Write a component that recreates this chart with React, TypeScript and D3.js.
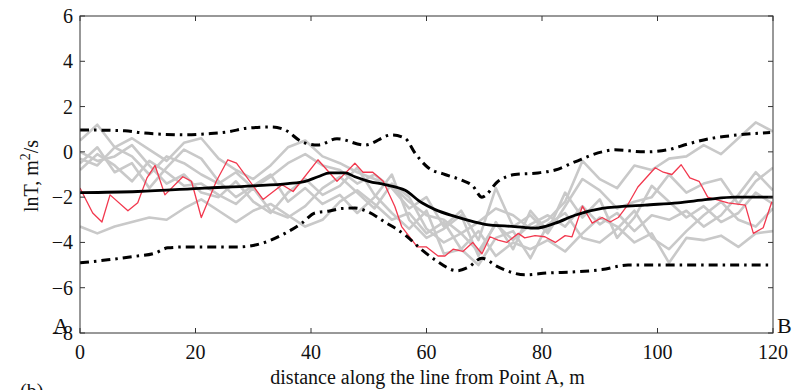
import * as d3 from 'd3'
import { useRef, useEffect } from 'react'

const W = 798, H = 390
const M = { top: 16, right: 25, bottom: 57, left: 80 }

// x positions for the gray realisations (every 3 m)
const grayX = [0, 3, 6, 9, 12, 15, 18, 21, 24, 27, 30, 33, 36, 39, 42, 45, 48, 51, 54, 57, 60, 63, 66, 69, 72, 75, 78, 81, 84, 87, 90, 93, 96, 99, 102, 105, 108, 111, 114, 117, 120]
const grayA = [0.5, 1.2, 0.2, 0.6, 0.1, -0.4, 0.4, 0.6, -0.3, -0.8, -1.2, -0.6, 0.2, 0.5, -0.2, -0.5, -0.9, -1.2, -1.5, -2.2, -2.8, -3.0, -3.6, -3.1, -2.5, -2.8, -3.4, -3.0, -2.2, -0.4, -1.2, -1.6, -0.6, -0.8, -0.3, -0.2, 0.3, -0.1, 0.6, 1.3, 0.9]
const grayB = [-0.3, -0.6, 0.2, -0.2, -1.0, -0.2, -0.5, -1.0, -1.4, -0.9, -1.6, -1.1, -0.5, -0.1, -0.6, -0.8, -1.4, -1.0, -1.6, -2.5, -2.0, -3.3, -2.6, -3.9, -1.6, -3.3, -2.8, -3.6, -2.4, -1.2, -1.7, -2.5, -2.2, -2.0, -1.0, -1.8, -1.4, -1.2, -2.3, -1.3, -0.7]
const grayC = [-0.8, -0.1, -0.6, -1.3, -0.4, -0.9, -1.5, -1.4, -1.9, -2.3, -1.6, -2.6, -2.9, -2.4, -1.6, -1.1, -1.8, -2.5, -1.4, -2.0, -3.4, -4.0, -3.6, -4.4, -3.2, -3.9, -3.2, -2.8, -3.3, -2.4, -3.2, -2.7, -3.5, -2.8, -3.0, -2.6, -3.3, -2.8, -1.9, -0.9, -1.7]
const grayD = [-3.3, -3.6, -3.3, -3.1, -2.9, -3.0, -2.5, -2.1, -2.6, -3.1, -2.6, -2.3, -2.8, -3.3, -3.0, -2.2, -1.7, -2.3, -3.0, -2.7, -3.6, -3.1, -4.3, -3.5, -4.6, -4.0, -4.3, -3.9, -4.4, -3.6, -2.9, -3.3, -4.0, -3.6, -4.9, -3.8, -3.9, -3.7, -4.2, -3.6, -3.5]
const grayE = [0.0, -0.4, -0.2, 0.3, -0.6, -1.4, -1.0, -1.8, -2.0, -1.3, -2.2, -2.7, -1.8, -1.2, -1.9, -1.5, -0.7, -1.9, -2.7, -3.4, -2.6, -4.5, -4.3, -5.0, -3.8, -3.5, -4.7, -3.2, -2.7, -3.8, -4.0, -3.4, -2.6, -3.8, -4.3, -3.5, -2.8, -2.2, -3.0, -3.3, -2.5]
const grayF = [-0.5, 0.2, -0.9, -0.5, -1.6, -0.7, 0.1, -0.3, -1.3, -2.0, -1.5, -1.0, -2.2, -1.6, -2.3, -1.9, -2.7, -2.0, -1.0, -3.0, -3.8, -3.4, -2.8, -4.6, -3.1, -4.3, -2.6, -3.5, -1.8, -2.9, -2.1, -3.8, -2.9, -1.5, -2.2, -2.9, -2.4, -3.1, -2.7, -1.8, -2.3]
const grays = [grayA, grayB, grayC, grayD, grayE, grayF]

// highlighted realisation (red)
const redX = [0, 2.2, 3.8, 5.2, 8.3, 10, 11.6, 13, 14.7, 17.8, 19.3, 21, 23.6, 25.6, 27.1, 31.7, 35, 36.9, 41.2, 44.5, 45.9, 47.6, 49, 50.7, 52.5, 54.5, 55.7, 58.4, 60, 62, 63.2, 64.6, 66.3, 68, 69.6, 71, 72.4, 73.9, 75.9, 77, 78.8, 80.5, 82.3, 84, 85.2, 87, 88.7, 90.4, 91.8, 93.2, 94.7, 96.6, 99.6, 101, 102.5, 104.1, 105.6, 107.2, 108.7, 110.8, 112.2, 115.2, 116.6, 118.3, 119.8]
const redY = [-1.6, -2.7, -3.1, -1.9, -2.6, -2.25, -1.15, -0.6, -1.9, -1.1, -1.3, -2.9, -1.3, -0.35, -0.5, -2.1, -1.45, -1.75, -0.35, -1.3, -0.95, -0.5, -0.9, -0.9, -1.3, -2.4, -3.3, -4.2, -4.2, -4.6, -4.6, -4.3, -4.4, -4.0, -4.5, -3.75, -3.9, -4.0, -3.6, -3.8, -3.7, -3.75, -4.0, -3.7, -3.75, -2.4, -3.15, -2.9, -3.1, -2.9, -2.4, -1.55, -0.7, -0.9, -1.0, -0.57, -1.15, -1.3, -2.0, -2.15, -2.25, -2.35, -3.6, -3.35, -2.2]

// mean and bounds
const meanX = [0, 10, 21.6, 30, 36, 39, 41.2, 43.3, 45.9, 47.6, 50, 52.8, 56.3, 59.2, 61.5, 64.9, 68.4, 70.1, 75.3, 78.8, 82.3, 85.7, 90.4, 97.8, 103.5, 108.7, 113.4, 120]
const meanY = [-1.8, -1.75, -1.6, -1.5, -1.4, -1.3, -1.1, -0.93, -0.93, -1.1, -1.3, -1.45, -1.7, -2.25, -2.55, -2.85, -3.1, -3.2, -3.3, -3.37, -3.15, -2.8, -2.5, -2.35, -2.25, -2.1, -2.0, -2.0]
const upX = [0, 7.8, 10.7, 14.2, 18.2, 22.2, 25.6, 29, 33.2, 35.5, 38.4, 41.2, 44.5, 49.3, 54, 56.3, 58, 60.3, 63.2, 66.1, 68, 69.6, 72.4, 75.3, 79.3, 82.3, 85.7, 90.4, 92.6, 97.8, 101.8, 105.3, 109.4, 112.9, 119.5]
const upY = [0.97, 0.93, 0.84, 0.78, 0.75, 0.8, 0.88, 1.05, 1.1, 0.97, 0.45, 0.3, 0.58, 0.3, 0.75, 0.6, -0.05, -0.7, -1.0, -1.25, -1.5, -2.0, -1.3, -1.0, -0.93, -0.8, -0.44, 0.0, 0.09, 0.0, 0.09, 0.35, 0.6, 0.72, 0.85]
const loX = [0, 4.8, 9, 13, 15.2, 18.2, 22.2, 27.4, 32, 35.5, 38.4, 40.7, 43, 45.4, 47.6, 49.9, 52.8, 56.3, 59.2, 61.5, 65.3, 67.2, 69.6, 72.4, 77, 81, 85.7, 90.4, 94.9, 120]
const loY = [-4.9, -4.77, -4.63, -4.47, -4.24, -4.2, -4.2, -4.2, -4.0, -3.6, -3.15, -2.7, -2.62, -2.5, -2.48, -2.65, -3.1, -3.67, -4.33, -4.77, -5.25, -5.1, -4.7, -5.08, -5.43, -5.35, -5.3, -5.2, -5.0, -5.0]

const xTicks = [0, 20, 40, 60, 80, 100, 120]
const yTicks = [-8, -6, -4, -2, 0, 2, 4, 6]

export default function App() {
  const svgRef = useRef<SVGSVGElement>(null)

  useEffect(() => {
    const svg = d3.select(svgRef.current)
    svg.selectAll('*').remove()
    const font = '"Liberation Serif", "Times New Roman", serif'

    const x = d3.scaleLinear().domain([0, 120]).range([M.left, W - M.right])
    const y = d3.scaleLinear().domain([-8, 6]).range([H - M.bottom, M.top])

    const line = d3.line<[number, number]>().x(d => x(d[0])).y(d => y(d[1]))
    const smooth = d3.line<[number, number]>().x(d => x(d[0])).y(d => y(d[1])).curve(d3.curveMonotoneX)
    const zip = (xs: number[], ys: number[]) => xs.map((v, i) => [v, ys[i]] as [number, number])

    svg.append('clipPath').attr('id', 'plot').append('rect')
      .attr('x', M.left).attr('y', M.top).attr('width', W - M.left - M.right).attr('height', H - M.top - M.bottom)
    const g = svg.append('g').attr('clip-path', 'url(#plot)')

    // gray realisations
    grays.forEach(s => {
      g.append('path').attr('d', line(zip(grayX, s))).attr('fill', 'none')
        .attr('stroke', '#c9c9c9').attr('stroke-width', 2.6).attr('stroke-linejoin', 'round')
    })

    // red realisation
    g.append('path').attr('d', line(zip(redX, redY))).attr('fill', 'none')
      .attr('stroke', '#f2384e').attr('stroke-width', 1.3).attr('stroke-linejoin', 'round')

    // bounds
    ;[[upX, upY], [loX, loY]].forEach(([xs, ys]) => {
      g.append('path').attr('d', smooth(zip(xs, ys))).attr('fill', 'none')
        .attr('stroke', '#000').attr('stroke-width', 3).attr('stroke-dasharray', '9,5,2.5,5')
    })

    // mean
    g.append('path').attr('d', smooth(zip(meanX, meanY))).attr('fill', 'none')
      .attr('stroke', '#000').attr('stroke-width', 2.8)

    // box
    svg.append('rect').attr('x', M.left).attr('y', M.top)
      .attr('width', W - M.left - M.right).attr('height', H - M.top - M.bottom)
      .attr('fill', 'none').attr('stroke', '#333').attr('stroke-width', 1)

    // ticks (inward)
    const x0 = M.left, x1 = W - M.right, y0 = H - M.bottom, y1 = M.top
    yTicks.forEach(t => {
      svg.append('line').attr('x1', x0).attr('x2', x0 + 5).attr('y1', y(t)).attr('y2', y(t)).attr('stroke', '#333')
      svg.append('line').attr('x1', x1).attr('x2', x1 - 5).attr('y1', y(t)).attr('y2', y(t)).attr('stroke', '#333')
      svg.append('text').attr('x', 73).attr('y', y(t) + 7).attr('text-anchor', 'end')
        .attr('font-family', font).attr('font-size', 20).attr('fill', '#111')
        .text(t < 0 ? '\u2212' + Math.abs(t) : String(t))
    })
    xTicks.forEach(t => {
      svg.append('line').attr('x1', x(t)).attr('x2', x(t)).attr('y1', y0).attr('y2', y0 - 5).attr('stroke', '#333')
      svg.append('line').attr('x1', x(t)).attr('x2', x(t)).attr('y1', y1).attr('y2', y1 + 5).attr('stroke', '#333')
      svg.append('text').attr('x', x(t)).attr('y', 359).attr('text-anchor', 'middle')
        .attr('font-family', font).attr('font-size', 20).attr('fill', '#111')
        .text(String(t))
    })

    // point labels
    svg.append('text').attr('x', 53).attr('y', 333).attr('font-family', font).attr('font-size', 22).attr('fill', '#111').text('A')
    svg.append('text').attr('x', 777).attr('y', 333).attr('font-family', font).attr('font-size', 22).attr('fill', '#111').text('B')

    // axis titles
    svg.append('text').attr('x', (x0 + x1) / 2 + 1).attr('y', 384).attr('text-anchor', 'middle')
      .attr('font-family', font).attr('font-size', 20).attr('fill', '#111')
      .text('distance along the line from Point A, m')
    const yl = svg.append('text').attr('transform', 'translate(38,176) rotate(-90)').attr('text-anchor', 'middle')
      .attr('font-family', font).attr('font-size', 20).attr('fill', '#111')
    yl.append('tspan').text('lnT, m')
    yl.append('tspan').attr('dy', -8).attr('font-size', 14).text('2')
    yl.append('tspan').attr('dy', 8).text('/s')

    svg.append('text').attr('x', 20).attr('y', 398).attr('font-family', font).attr('font-size', 20).attr('fill', '#111').text('(b)')
  }, [])

  return (
    <div style={{ position: 'fixed', left: 0, top: 0 }}>
      <svg ref={svgRef} width={W} height={H} viewBox={`0 0 ${W} ${H}`} style={{ display: 'block', background: '#fff' }} />
    </div>
  )
}
